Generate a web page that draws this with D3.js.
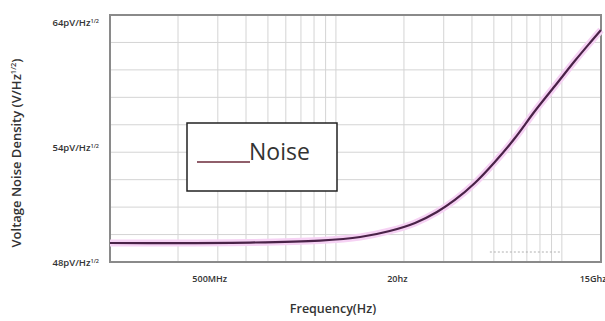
<!DOCTYPE html>
<html>
<head>
<meta charset="utf-8">
<script src="https://cdn.jsdelivr.net/npm/d3@7"></script>
<style>
  body { margin: 0; background: #fff; }
  text { font-family: "Open Sans", sans-serif; }
</style>
</head>
<body>
<div id="chart"></div>
<script>
// noise curve
var freq  = [1, 4.16, 8.5, 12.8, 17.3, 22.4, 28, 33.6, 41.2, 50.5, 62, 76, 93.1, 114, 133, 149];
var noise = [49.23, 49.26, 49.39, 49.62, 50.01, 50.53, 51.24, 52.02, 53.12, 54.48, 56.03, 57.78, 59.4, 61.02, 62.19, 63.03];

// tick positions and the labels printed there
var xTicks = [2.75, 18.6, 149];
var xTickLabels = ["500MHz", "20hz", "15Ghz"];
var yTicks = [48, 55.4, 63.5];
var yTickLabels = ["48pV/Hz", "54pV/Hz", "64pV/Hz"];

var margin = {top: 15, right: 4, bottom: 59, left: 110},
    width = 605 - margin.left - margin.right,
    height = 321 - margin.top - margin.bottom;

var svg = d3.select("#chart")
  .append("svg")
    .attr("width", 605)
    .attr("height", 321)
  .append("g")
    .attr("transform", "translate(" + margin.left + "," + margin.top + ")");

var x = d3.scaleLog()
  .domain([1, 149])
  .range([0, width]);

var y = d3.scaleLinear()
  .domain([48, 64])
  .range([height, 0]);

// vertical grid (log subdivisions)
var xGrid = [];
[1, 10, 100].forEach(function(dec) {
  for (var k = 2; k <= 10; k++) { if (dec * k < 149) xGrid.push(dec * k); }
});
svg.append("g")
  .selectAll("line")
  .data(xGrid)
  .enter().append("line")
    .attr("x1", function(d) { return x(d); })
    .attr("x2", function(d) { return x(d); })
    .attr("y1", 0)
    .attr("y2", height)
    .attr("stroke", "#d4d4d4")
    .attr("stroke-width", 1);

// horizontal grid, 9 bands
var yGrid = d3.range(1, 9).map(function(i) { return 48 + i * 16 / 9; });
svg.append("g")
  .selectAll("line")
  .data(yGrid)
  .enter().append("line")
    .attr("x1", 0)
    .attr("x2", width)
    .attr("y1", function(d) { return y(d); })
    .attr("y2", function(d) { return y(d); })
    .attr("stroke", "#d4d4d4")
    .attr("stroke-width", 1);

// frame
svg.append("rect")
  .attr("x", 0).attr("y", 0)
  .attr("width", width).attr("height", height)
  .attr("fill", "none")
  .attr("stroke", "#8a8a8a")
  .attr("stroke-width", 2);

// small dotted mark near bottom right
svg.append("line")
  .attr("x1", x(48)).attr("x2", x(100))
  .attr("y1", height - 10).attr("y2", height - 10)
  .attr("stroke", "#b0b0b0")
  .attr("stroke-dasharray", "2,2");

// x axis labels
var xAxis = svg.append("g")
  .attr("transform", "translate(0," + height + ")")
  .call(d3.axisBottom(x)
    .tickValues(xTicks)
    .tickSize(0)
    .tickPadding(14)
    .tickFormat(function(d, i) { return xTickLabels[i]; }));
xAxis.select(".domain").remove();
xAxis.selectAll("text")
  .style("font-family", "Open Sans, sans-serif")
  .style("font-size", "9px")
  .style("font-weight", "600")
  .attr("fill", "#333");
xAxis.selectAll("text").filter(function(d, i) { return i === 2; })
  .attr("text-anchor", "end")
  .attr("dx", "5");

// y axis labels with the 1/2 superscript
var yAxis = svg.append("g")
  .call(d3.axisLeft(y)
    .tickValues(yTicks)
    .tickSize(0)
    .tickPadding(11)
    .tickFormat(function(d, i) { return yTickLabels[i]; }));
yAxis.select(".domain").remove();
yAxis.selectAll("text")
  .style("font-family", "Open Sans, sans-serif")
  .style("font-size", "9.5px")
  .style("font-weight", "600")
  .attr("fill", "#333")
  .append("tspan")
    .attr("dy", "-3")
    .style("font-size", "5.5px")
    .text("1/2");

// curve: pale glow plus dark line
var line = d3.line()
  .x(function(d, i) { return x(freq[i]); })
  .y(function(d) { return y(d); })
  .curve(d3.curveCatmullRom.alpha(0.5));

svg.append("path")
  .datum(noise)
  .attr("fill", "none")
  .attr("stroke", "#f6d2f4")
  .attr("stroke-width", 7)
  .attr("d", line);

svg.append("path")
  .datum(noise)
  .attr("fill", "none")
  .attr("stroke", "#4a2248")
  .attr("stroke-width", 2.2)
  .attr("d", line);

// legend box
var legend = svg.append("g")
  .attr("transform", "translate(" + (187 - margin.left) + "," + (123 - margin.top) + ")");
legend.append("rect")
  .attr("width", 150).attr("height", 68)
  .attr("fill", "#fff")
  .attr("stroke", "#222")
  .attr("stroke-width", 1.5);
legend.append("line")
  .attr("x1", 10).attr("x2", 63)
  .attr("y1", 39).attr("y2", 39)
  .attr("stroke", "#6b2a3a")
  .attr("stroke-width", 1.5);
legend.append("text")
  .attr("x", 62).attr("y", 37)
  .style("font-size", "23px")
  .attr("fill", "#333")
  .text("Noise");

// axis titles
svg.append("text")
  .attr("x", 333 - margin.left)
  .attr("y", height + 51)
  .attr("text-anchor", "middle")
  .style("font-size", "12.5px")
  .style("font-weight", "600")
  .attr("fill", "#333")
  .text("Frequency(Hz)");

var yTitle = svg.append("text")
  .attr("transform", "translate(" + (21 - margin.left) + "," + (153 - margin.top) + ") rotate(-90)")
  .attr("text-anchor", "middle")
  .style("font-size", "13px")
  .style("font-weight", "600")
  .attr("fill", "#333")
  .text("Voltage Noise Density (V/Hz");
yTitle.append("tspan").attr("dy", "-5").style("font-size", "7.5px").text("1/2");
yTitle.append("tspan").attr("dy", "5").text(")");
</script>
</body>
</html>
